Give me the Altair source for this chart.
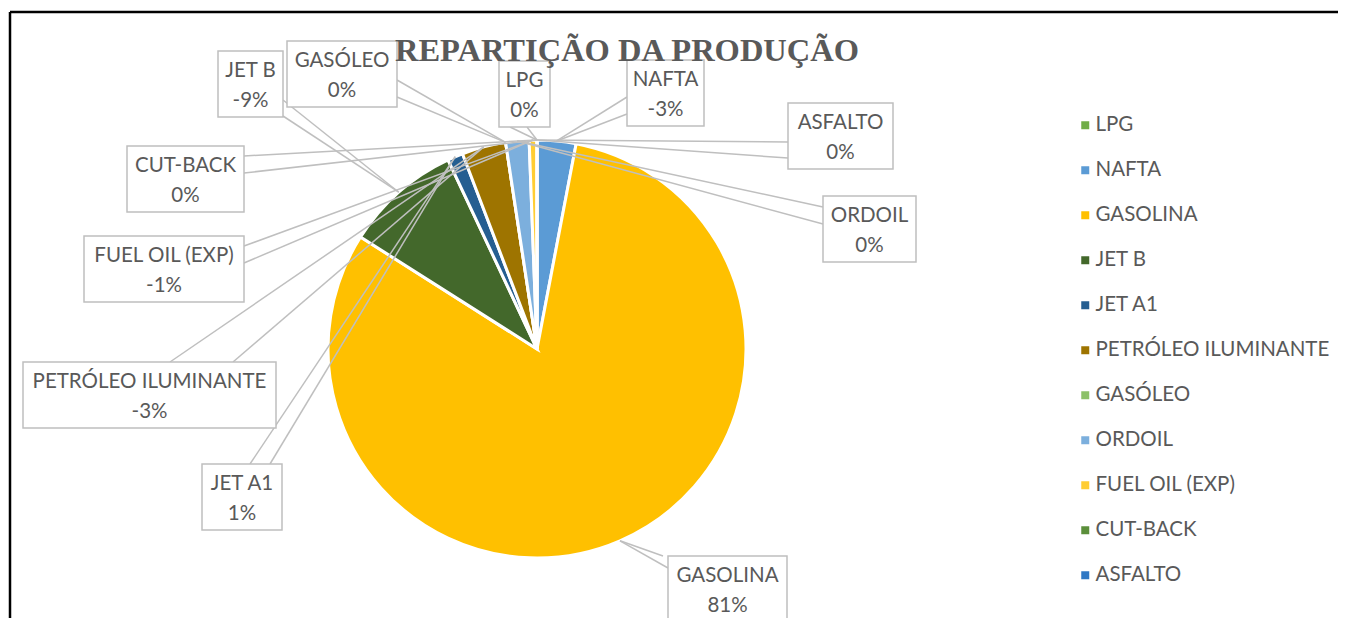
import altair as alt
import pandas as pd
import numpy as np

# ---------------- data ----------------
categories = ["LPG", "NAFTA", "GASOLINA", "JET B", "JET A1", "PETRÓLEO ILUMINANTE",
              "GASÓLEO", "ORDOIL", "FUEL OIL (EXP)", "CUT-BACK", "ASFALTO"]
shares = [0.0, 3.0, 81.0, 9.0, 1.2, 3.4, 0.0, 1.8, 0.6, 0.0, 0.0]
label_values = ["0%", "-3%", "81%", "-9%", "1%", "-3%", "0%", "0%", "-1%", "0%", "0%"]
colors = ["#70AD47", "#5B9BD5", "#FFC000", "#43682B", "#255E91", "#9E7400",
          "#8CC168", "#7CAFDD", "#FFCD33", "#5B8F3B", "#2F78C4"]
title_text = "REPARTIÇÃO DA PRODUÇÃO"

# ---------------- layout (page pixels) ----------------
W, H = 1330, 612
OFF = 8
CX, CY, R = 537, 349, 209
TEXT = "#595959"
GRID = "#BFBFBF"

# label boxes: x0, y0, x1, y1
boxes = {
    "LPG": (499, 61, 550, 127),
    "NAFTA": (627, 60, 704, 126),
    "GASOLINA": (668, 556, 787, 622),
    "JET B": (218, 51, 283, 117),
    "JET A1": (202, 464, 282, 530),
    "PETRÓLEO ILUMINANTE": (23, 362, 276, 428),
    "GASÓLEO": (287, 41, 397, 107),
    "ORDOIL": (823, 196, 916, 262),
    "FUEL OIL (EXP)": (84, 236, 244, 302),
    "CUT-BACK": (127, 146, 244, 212),
    "ASFALTO": (788, 103, 893, 169),
}
# callout pointer base points on the box edges
bases = {
    "LPG": ((510, 127), (527, 127)),
    "NAFTA": ((627, 97), (627, 114)),
    "GASOLINA": ((663, 556), (668, 568)),
    "JET B": ((283, 100), (283, 116)),
    "JET A1": ((250, 464), (270, 464)),
    "PETRÓLEO ILUMINANTE": ((170, 362), (233, 362)),
    "GASÓLEO": ((397, 80), (397, 97)),
    "ORDOIL": ((823, 207), (823, 224)),
    "FUEL OIL (EXP)": ((244, 246), (244, 263)),
    "CUT-BACK": ((244, 156), (244, 173)),
    "ASFALTO": ((788, 142), (788, 158)),
}

# ---------------- tables ----------------
pie_df = pd.DataFrame({"category": categories, "share": shares,
                       "idx": list(range(len(categories)))})

total = float(np.sum(shares))
cum = np.concatenate([[0.0], np.cumsum(shares)[:-1]])
mid = (cum + np.array(shares) / 2.0) / total * 2 * np.pi
anchors = {c: (CX + R * np.sin(a), CY - R * np.cos(a)) for c, a in zip(categories, mid)}

line_rows, box_rows, text_rows = [], [], []
for c, v in zip(categories, label_values):
    x0, y0, x1, y1 = boxes[c]
    box_rows.append({"x": x0, "y": y0, "x2": x1, "y2": y1})
    ax, ay = anchors[c]
    for bx, by in bases[c]:
        line_rows.append({"x": bx, "y": by, "x2": ax, "y2": ay})
    xm = (x0 + x1) / 2
    text_rows.append({"x": xm, "y": y0 + 20, "t": c})
    text_rows.append({"x": xm, "y": y0 + 49.5, "t": v})

line_df = pd.DataFrame(line_rows)
box_df = pd.DataFrame(box_rows)
text_df = pd.DataFrame(text_rows)

xs = alt.Scale(domain=[OFF, W + OFF], nice=False, zero=False)
ys = alt.Scale(domain=[OFF, H + OFF], reverse=True, nice=False, zero=False)

pie = alt.Chart(pie_df).mark_arc(radius=R, stroke="white", strokeWidth=3).encode(
    theta=alt.Theta("share:Q", stack=True),
    order=alt.Order("idx:Q"),
    color=alt.Color("category:N", scale=alt.Scale(domain=categories, range=colors),
                    legend=alt.Legend(title=None, orient="none", legendX=1067, legendY=107,
                                      symbolType="square", symbolSize=64, symbolStrokeWidth=0,
                                      labelFont="Lato", labelFontSize=20.5, labelColor=TEXT,
                                      rowPadding=24.0, labelOffset=0, labelLimit=400)),
    x=alt.value(CX - OFF),
    y=alt.value(CY - OFF),
)

lines = alt.Chart(line_df).mark_rule(color=GRID, strokeWidth=1.5).encode(
    x=alt.X("x:Q", scale=xs, axis=None),
    y=alt.Y("y:Q", scale=ys, axis=None),
    x2="x2:Q", y2="y2:Q",
)

rects = alt.Chart(box_df).mark_rect(fill="white", stroke=GRID, strokeWidth=1.5).encode(
    x=alt.X("x:Q", scale=xs, axis=None),
    y=alt.Y("y:Q", scale=ys, axis=None),
    x2="x2:Q", y2="y2:Q",
)

texts = alt.Chart(text_df).mark_text(font="Lato", fontSize=20.5, color=TEXT,
                                     align="center", baseline="middle").encode(
    x=alt.X("x:Q", scale=xs, axis=None),
    y=alt.Y("y:Q", scale=ys, axis=None),
    text="t:N",
)

title = alt.Chart(pd.DataFrame({"t": [title_text]})).mark_text(
    font="Liberation Serif", fontSize=32.5, fontWeight="bold", color=TEXT,
    align="center", baseline="alphabetic").encode(
    text="t:N", x=alt.value(627 - OFF), y=alt.value(61 - OFF))

frame_top = alt.Chart(pd.DataFrame({"a": [0]})).mark_rule(color="black", strokeWidth=2.5).encode(
    x=alt.value(10 - OFF), x2=alt.value(W + 20), y=alt.value(12 - OFF))
frame_left = alt.Chart(pd.DataFrame({"a": [0]})).mark_rule(color="black", strokeWidth=2.5).encode(
    x=alt.value(10 - OFF), y=alt.value(12 - OFF), y2=alt.value(H + 20))

chart = alt.layer(pie, lines, rects, texts, title, frame_top, frame_left).properties(
    width=W, height=H, padding=0,
    autosize=alt.AutoSizeParams(type="none"),
    background="white",
).configure_view(stroke=None)

chart.save("out.html", embed_options={"renderer": "svg", "actions": False})
